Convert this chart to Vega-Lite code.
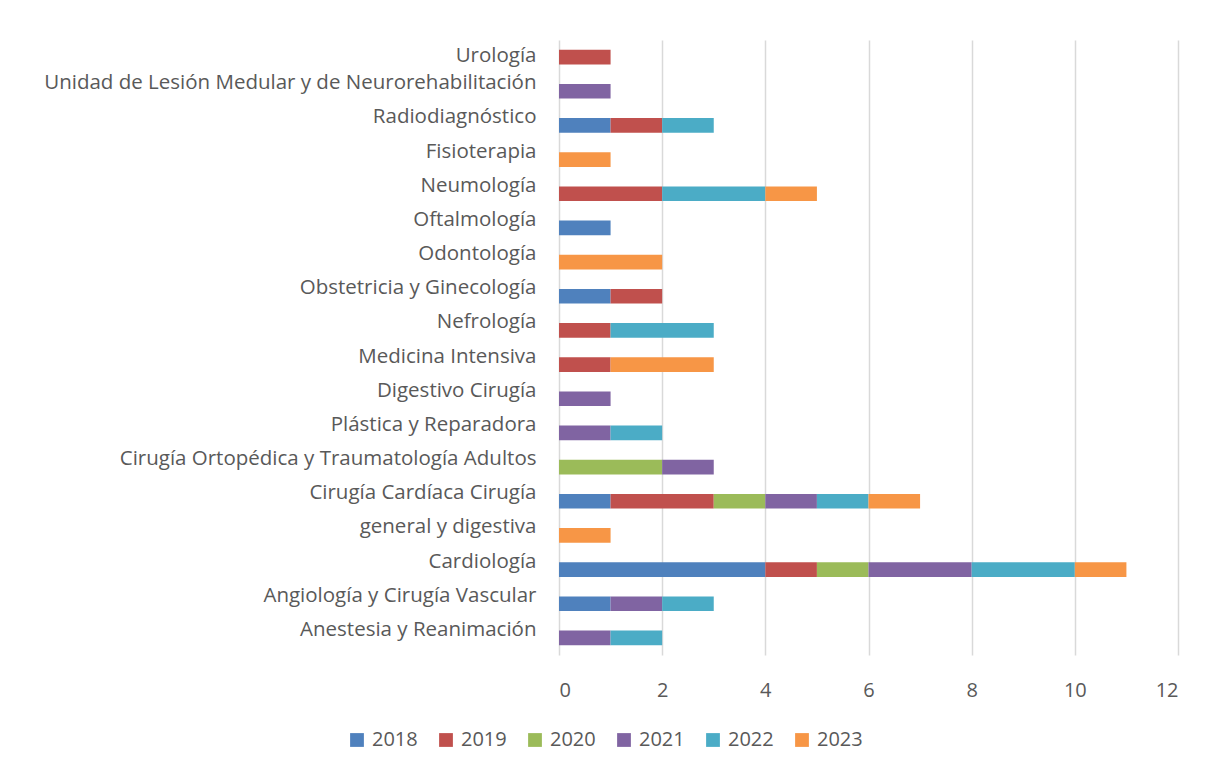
{
  "$schema": "https://vega.github.io/schema/vega-lite/v6.json",
  "width": 619,
  "height": 615,
  "autosize": {"type": "none"},
  "padding": {"left": 559, "top": 40, "right": 38, "bottom": 116},
  "background": "white",
  "config": {"view": {"stroke": null}, "font": "Open Sans"},
  "data": {"values": [
    {"cat": "Urología", "year": "2019", "n": 1},
    {"cat": "Unidad de Lesión Medular y de Neurorehabilitación", "year": "2021", "n": 1},
    {"cat": "Radiodiagnóstico", "year": "2018", "n": 1},
    {"cat": "Radiodiagnóstico", "year": "2019", "n": 1},
    {"cat": "Radiodiagnóstico", "year": "2022", "n": 1},
    {"cat": "Fisioterapia", "year": "2023", "n": 1},
    {"cat": "Neumología", "year": "2019", "n": 2},
    {"cat": "Neumología", "year": "2022", "n": 2},
    {"cat": "Neumología", "year": "2023", "n": 1},
    {"cat": "Oftalmología", "year": "2018", "n": 1},
    {"cat": "Odontología", "year": "2023", "n": 2},
    {"cat": "Obstetricia y Ginecología", "year": "2018", "n": 1},
    {"cat": "Obstetricia y Ginecología", "year": "2019", "n": 1},
    {"cat": "Nefrología", "year": "2019", "n": 1},
    {"cat": "Nefrología", "year": "2022", "n": 2},
    {"cat": "Medicina Intensiva", "year": "2019", "n": 1},
    {"cat": "Medicina Intensiva", "year": "2023", "n": 2},
    {"cat": "Digestivo Cirugía", "year": "2021", "n": 1},
    {"cat": "Plástica y Reparadora", "year": "2021", "n": 1},
    {"cat": "Plástica y Reparadora", "year": "2022", "n": 1},
    {"cat": "Cirugía Ortopédica y Traumatología Adultos", "year": "2020", "n": 2},
    {"cat": "Cirugía Ortopédica y Traumatología Adultos", "year": "2021", "n": 1},
    {"cat": "Cirugía Cardíaca Cirugía", "year": "2018", "n": 1},
    {"cat": "Cirugía Cardíaca Cirugía", "year": "2019", "n": 2},
    {"cat": "Cirugía Cardíaca Cirugía", "year": "2020", "n": 1},
    {"cat": "Cirugía Cardíaca Cirugía", "year": "2021", "n": 1},
    {"cat": "Cirugía Cardíaca Cirugía", "year": "2022", "n": 1},
    {"cat": "Cirugía Cardíaca Cirugía", "year": "2023", "n": 1},
    {"cat": "general y digestiva", "year": "2023", "n": 1},
    {"cat": "Cardiología", "year": "2018", "n": 4},
    {"cat": "Cardiología", "year": "2019", "n": 1},
    {"cat": "Cardiología", "year": "2020", "n": 1},
    {"cat": "Cardiología", "year": "2021", "n": 2},
    {"cat": "Cardiología", "year": "2022", "n": 2},
    {"cat": "Cardiología", "year": "2023", "n": 1},
    {"cat": "Angiología y Cirugía Vascular", "year": "2018", "n": 1},
    {"cat": "Angiología y Cirugía Vascular", "year": "2021", "n": 1},
    {"cat": "Angiología y Cirugía Vascular", "year": "2022", "n": 1},
    {"cat": "Anestesia y Reanimación", "year": "2021", "n": 1},
    {"cat": "Anestesia y Reanimación", "year": "2022", "n": 1}
  ]},
  "mark": {"type": "bar"},
  "encoding": {
    "y": {
      "field": "cat",
      "type": "nominal",
      "sort": ["Urología", "Unidad de Lesión Medular y de Neurorehabilitación", "Radiodiagnóstico", "Fisioterapia", "Neumología", "Oftalmología", "Odontología", "Obstetricia y Ginecología", "Nefrología", "Medicina Intensiva", "Digestivo Cirugía", "Plástica y Reparadora", "Cirugía Ortopédica y Traumatología Adultos", "Cirugía Cardíaca Cirugía", "general y digestiva", "Cardiología", "Angiología y Cirugía Vascular", "Anestesia y Reanimación"],
      "scale": {"paddingInner": 0.57, "paddingOuter": 0.285},
      "axis": {
        "title": null,
        "domain": false,
        "ticks": false,
        "grid": false,
        "labelFontSize": 20.5,
        "labelColor": "#595959",
        "labelPadding": 23,
        "labelLimit": 600,
        "labelOffset": {"condition": {"test": "datum.value === 'Urología'", "value": -1}, "value": -8}
      }
    },
    "x": {
      "field": "n",
      "type": "quantitative",
      "stack": "zero",
      "scale": {"domain": [0, 12], "nice": false},
      "axis": {
        "title": null,
        "values": [0, 2, 4, 6, 8, 10, 12],
        "grid": true,
        "gridColor": "#d9d9d9",
        "gridWidth": 1.5,
        "domain": false,
        "ticks": false,
        "labelFontSize": 20,
        "labelColor": "#595959",
        "labelPadding": 25
      }
    },
    "color": {
      "field": "year",
      "type": "nominal",
      "scale": {
        "domain": ["2018", "2019", "2020", "2021", "2022", "2023"],
        "range": ["#4F81BD", "#C0504D", "#9BBB59", "#8064A2", "#4BACC6", "#F79646"]
      },
      "legend": {
        "title": null,
        "orient": "none",
        "legendX": -212,
        "legendY": 690,
        "direction": "horizontal",
        "symbolType": "square",
        "symbolSize": 190,
        "symbolStrokeWidth": 0,
        "labelFontSize": 20,
        "labelColor": "#595959",
        "labelOffset": 5,
        "columnPadding": 18
      }
    },
    "order": {"field": "year", "type": "ordinal"}
  }
}
